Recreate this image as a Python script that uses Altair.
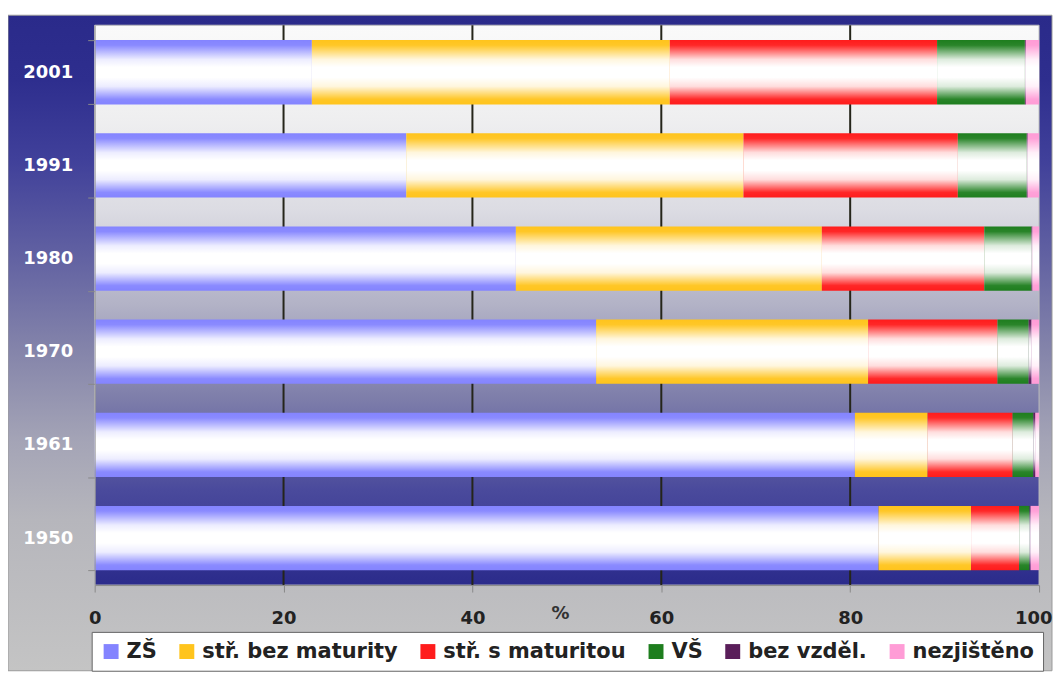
import altair as alt
import pandas as pd

years = ["2001", "1991", "1980", "1970", "1961", "1950"]
categories = ["ZŠ", "stř. bez maturity", "stř. s maturitou", "VŠ", "bez vzděl.", "nezjištěno"]
colors = ["#8484ff", "#ffc41c", "#ff1c1c", "#1e7e1e", "#5a1e5a", "#ff9cd6"]

zs = [23.0, 33.0, 44.6, 53.1, 80.5, 83.0]
bez_maturity = [37.9, 35.7, 32.4, 28.8, 7.7, 9.8]
s_maturitou = [28.3, 22.7, 17.2, 13.7, 9.0, 5.1]
vs = [9.3, 7.3, 5.0, 3.3, 2.2, 1.1]
bez_vzdel = [0.1, 0.1, 0.1, 0.3, 0.2, 0.1]
nezjisteno = [1.4, 1.2, 0.7, 0.8, 0.4, 0.9]
series = [zs, bez_maturity, s_maturitou, vs, bez_vzdel, nezjisteno]

x_ticks = [0, 20, 40, 60, 80, 100]
grid_ticks = [20, 40, 60, 80]

rows = []
for ci, (cat, vals) in enumerate(zip(categories, series)):
    for y, v in zip(years, vals):
        rows.append({"rok": y, "kategorie": cat, "poradi": ci, "podil": v})
df = pd.DataFrame(rows)

W, H = 948, 562
PAD_L, PAD_T, PAD_R, PAD_B = 87, 16, 14, 87
FONT = "DejaVu Sans"


def grad(stops):
    return alt.LinearGradient(
        gradient="linear", x1=0, y1=0, x2=0, y2=1,
        stops=[alt.GradientStop(color=c, offset=o) for o, c in stops],
    )


x_scale = alt.Scale(domain=[0, 100], nice=False, zero=True)
y_scale = alt.Scale(domain=years, paddingInner=0.31, paddingOuter=0.16)

x_axis = alt.Axis(
    values=x_ticks, format="d", title="%", titleX=467, titleY=29,
    titleBaseline="middle", titleAlign="center", titleFont=FONT,
    titleFontSize=18, titleFontWeight="bold", titleColor="#333",
    labelFont=FONT, labelFontWeight="bold", labelFontSize=18,
    labelColor="#222", labelFlush=False, labelPadding=18,
    labelAlign={"condition": {"test": "datum.value == 100", "value": "right"}, "value": "center"},
    labelOffset={"condition": {"test": "datum.value == 100", "value": 13}, "value": 0},
    tickColor="#8a8a8a", tickSize=7, domainColor="#8a8a8a",
    grid=False, zindex=1,
)
y_axis = alt.Axis(
    title=None, labelColor="white", labelFont=FONT, labelFontWeight="bold",
    labelFontSize=18, labelPadding=15, tickSize=7, tickColor="#8a8a8a",
    domainColor="#9a9a9a", tickBand="extent", grid=False, zindex=1,
)

one = pd.DataFrame({"k": [0]})

outer_bg = alt.Chart(one).mark_rect(
    fill=grad([
        (0, "#2a2a8a"), (0.1, "#2e2e8e"), (0.22, "#40409a"), (0.37, "#6262a2"),
        (0.51, "#8484aa"), (0.65, "#a4a4b6"), (0.77, "#b6b6bc"), (1, "#c4c4c4"),
    ]),
    stroke="#9a9a9a", strokeWidth=1,
).encode(
    x=alt.value(-PAD_L), x2=alt.value(W + PAD_R - 1),
    y=alt.value(-10), y2=alt.value(H + PAD_B - 1),
)

plot_bg = alt.Chart(one).mark_rect(
    fill=grad([
        (0, "#fafafa"), (0.165, "#efeff0"), (0.33, "#dcdce3"), (0.5, "#b2b2c6"),
        (0.665, "#7e7eaa"), (0.83, "#4a4a9c"), (1, "#2b2b8b"),
    ]),
    stroke="#bdbdbd", strokeWidth=1,
).encode(x=alt.value(0), x2=alt.value(W), y=alt.value(0), y2=alt.value(H))

grid = alt.Chart(pd.DataFrame({"t": grid_ticks})).mark_rule(
    color="#25251a", strokeWidth=2
).encode(x=alt.X("t:Q", scale=x_scale, axis=x_axis))

base = alt.Chart(df).transform_stack(
    stack="podil", groupby=["rok"], as_=["x0", "x1"],
    sort=[alt.SortField("poradi", order="ascending")],
)

bars = base.mark_bar(cornerRadius=0, strokeWidth=0).encode(
    x=alt.X("x0:Q", scale=x_scale, axis=x_axis),
    x2="x1:Q",
    y=alt.Y("rok:N", scale=y_scale, sort=years, axis=y_axis),
    color=alt.Color(
        "kategorie:N",
        scale=alt.Scale(domain=categories, range=colors),
        legend=alt.Legend(
            orient="none", legendX=-3, legendY=609, direction="horizontal",
            title=None, fillColor="white", strokeColor="#666", padding=9,
            symbolType="square", symbolSize=225, symbolStrokeWidth=0,
            labelFont=FONT, labelFontWeight="bold", labelFontSize=21,
            labelColor="#222", labelOffset=5, columnPadding=19, labelLimit=400,
            zindex=1,
        ),
    ),
)

white_a = lambda a: f"rgba(255,255,255,{a})"
overlay = base.mark_bar(
    cornerRadius=0, strokeWidth=0,
    fill=grad([
        (0, white_a(0)), (0.08, white_a(0.05)), (0.3, white_a(0.85)),
        (0.42, white_a(1)), (0.58, white_a(1)), (0.72, white_a(0.85)),
        (0.92, white_a(0.05)), (1, white_a(0)),
    ]),
).encode(
    x=alt.X("x0:Q", scale=x_scale, axis=x_axis),
    x2="x1:Q",
    y=alt.Y("rok:N", scale=y_scale, sort=years, axis=y_axis),
)

chart = alt.layer(outer_bg, plot_bg, grid, bars, overlay).properties(
    width=W, height=H,
    padding={"left": PAD_L, "top": PAD_T, "right": PAD_R, "bottom": PAD_B},
    autosize=alt.AutoSizeParams(type="none"),
).configure_view(stroke=None)

chart.save("out.html", embed_options={"renderer": "svg", "actions": False})
